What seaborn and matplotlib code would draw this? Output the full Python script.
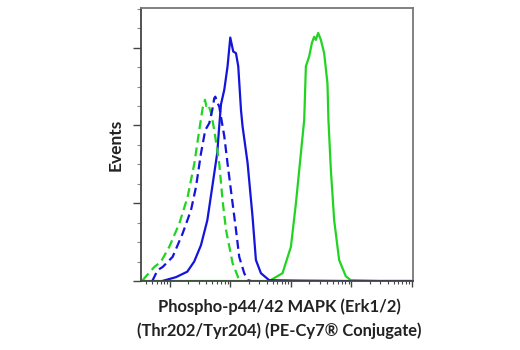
import numpy as np
import pandas as pd
import seaborn as sns
import matplotlib
matplotlib.use("Agg")
import matplotlib.pyplot as plt
from matplotlib.ticker import LogLocator, MultipleLocator, NullFormatter

# Data: log10 fluorescence intensity and event counts (arbitrary units)
blue_solid_logx = [0.873, 1.10, 1.286, 1.40, 1.512, 1.617, 1.699, 1.782, 1.815, 1.843, 1.898, 1.952, 1.997,
                   2.046, 2.091, 2.129, 2.174, 2.200, 2.283, 2.365, 2.421, 2.504, 2.641, 3.137, 3.963, 4.99]
blue_solid_y = [0.0, 0.05, 0.12, 0.25, 0.46, 0.78, 1.21, 1.65, 2.0, 2.27, 2.46, 2.76, 3.13,
                2.95, 2.93, 2.76, 2.2, 1.99, 1.52, 0.83, 0.27, 0.10, 0.01, 0.005, 0.0, 0.0]

blue_dash_logx = [0.707, 0.795, 0.878, 1.043, 1.208, 1.347, 1.430, 1.512, 1.583, 1.650, 1.699, 1.732, 1.749,
                  1.782, 1.815, 1.898, 1.952, 2.035, 2.091, 2.145, 2.228, 2.283, 2.344]
blue_dash_y = [0.0, 0.14, 0.18, 0.31, 0.61, 0.91, 1.21, 1.64, 1.94, 2.03, 2.2, 2.35, 2.37,
               2.30, 2.24, 1.86, 1.51, 1.0, 0.66, 0.31, 0.10, 0.01, 0.0]

green_dash_logx = [0.547, 0.625, 0.740, 0.851, 0.988, 1.154, 1.291, 1.402, 1.484, 1.539, 1.579, 1.600, 1.633,
                   1.683, 1.732, 1.815, 1.869, 1.926, 2.035, 2.145]
green_dash_y = [0.01, 0.08, 0.18, 0.25, 0.44, 0.74, 1.08, 1.51, 1.94, 2.22, 2.33, 2.25, 2.27,
                2.15, 1.94, 1.51, 1.04, 0.66, 0.23, 0.01]

green_solid_logx = [0.55, 2.3, 2.641, 2.861, 3.0, 3.083, 3.165, 3.220, 3.248, 3.303, 3.347, 3.385, 3.413, 3.451,
                    3.496, 3.550, 3.605, 3.621, 3.661, 3.716, 3.798, 3.909, 3.992, 4.46, 5.0]
green_solid_y = [0.0, 0.0, 0.0, 0.10, 0.44, 1.0, 1.64, 2.07, 2.76, 2.89, 3.06, 3.14, 3.10, 3.19,
                 3.10, 2.93, 2.54, 2.07, 1.43, 0.78, 0.27, 0.06, 0.01, 0.0, 0.0]

xlabel = "Phospho-p44/42 MAPK (Erk1/2)\n(Thr202/Tyr204) (PE-Cy7\u00ae Conjugate)"
ylabel = "Events"

BLUE = "#1414dc"
GREEN = "#22d422"

sns.set_theme(style="white")
plt.rcParams['font.family'] = ['Lato', 'DejaVu Sans']

fig = plt.figure(figsize=(5.2, 3.5), dpi=100)
ax = fig.add_axes([141/520, 1 - 281/350, (413-141)/520, (281-8)/350])

series = [
    (green_solid_logx, green_solid_y, GREEN, "-"),
    (blue_solid_logx, blue_solid_y, BLUE, "-"),
    (green_dash_logx, green_dash_y, GREEN, (0, (4, 2.2))),
    (blue_dash_logx, blue_dash_y, BLUE, (0, (4, 2.2))),
]
for lx, yv, col, ls in series:
    df = pd.DataFrame({"x": 10 ** np.array(lx), "y": yv})
    sns.lineplot(data=df, x="x", y="y", ax=ax, color=col, linestyle=ls, linewidth=1.6,
                 estimator=None, sort=False)

ax.set_xscale("log")
ax.set_xlim(10 ** 0.52, 10 ** 5.02)
ax.set_ylim(0, 3.51)
ax.xaxis.set_major_locator(LogLocator(base=10, numticks=10))
ax.xaxis.set_minor_locator(LogLocator(base=10, subs=np.arange(2, 10), numticks=20))
ax.xaxis.set_major_formatter(NullFormatter())
ax.xaxis.set_minor_formatter(NullFormatter())
ax.yaxis.set_major_locator(MultipleLocator(1))
ax.yaxis.set_minor_locator(MultipleLocator(0.25))
ax.yaxis.set_major_formatter(NullFormatter())

ax.tick_params(axis="x", which="major", direction="out", length=4, width=1, color="#444444", bottom=True)
ax.tick_params(axis="x", which="minor", direction="out", length=2, width=0.8, color="#444444", bottom=True)
ax.tick_params(axis="y", which="major", direction="out", length=6, width=1, color="#444444", left=True)
ax.tick_params(axis="y", which="minor", direction="out", length=3, width=0.8, color="#888888", left=True)

for name, sp in ax.spines.items():
    sp.set_visible(True)
    sp.set_linewidth(1.3)
    sp.set_color("#777777" if name in ("top", "right") else "#444444")

ax.set_xlabel("")
ax.set_ylabel("")
fig.text(279/520, 1 - 319/350, xlabel, ha="center", va="center", fontsize=11.9,
         fontweight="bold", color="#222222", linespacing=1.55)
fig.text(116/520, 1 - 145/350, ylabel, ha="center", va="center", rotation=90,
         fontsize=12.5, fontweight="bold", color="#222222")

fig.savefig("out.png", dpi=100)
